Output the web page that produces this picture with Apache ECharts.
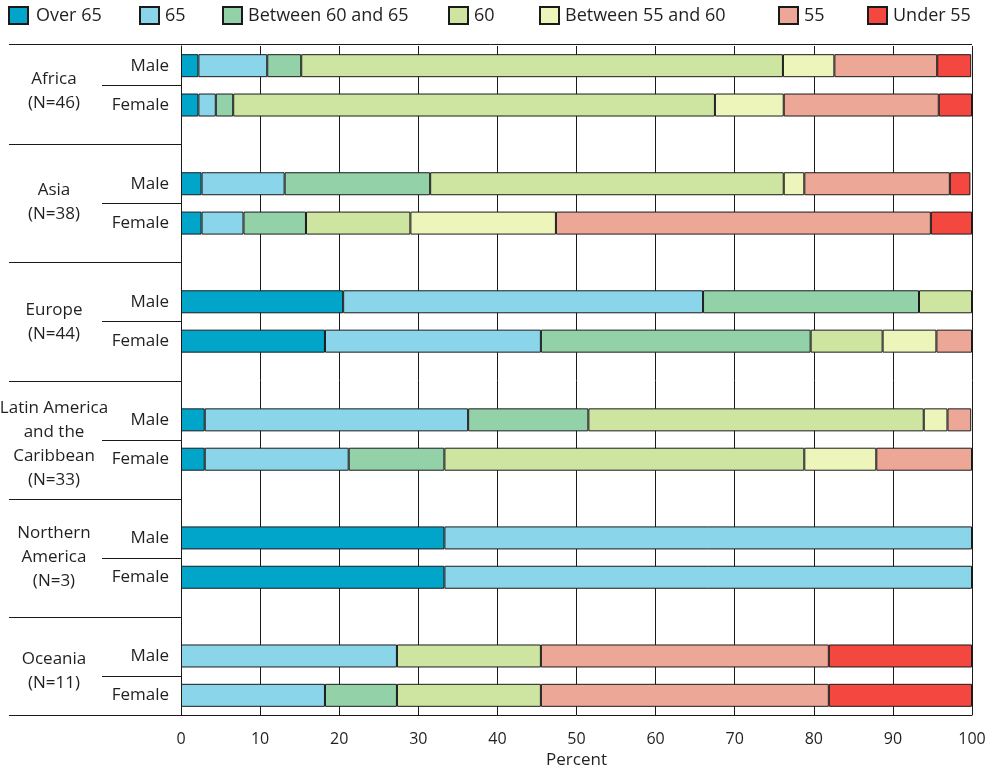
<!DOCTYPE html>
<html>
<head>
<meta charset="utf-8">
<script src="https://cdn.jsdelivr.net/npm/echarts@6/dist/echarts.min.js"></script>
<style>
html,body{margin:0;padding:0;background:#fff;}
#chart{width:999px;height:771px;}
</style>
</head>
<body>
<div id="chart"></div>
<script>
// ---- data ----
const rowLabels = ['Male', 'Female'];
const groupLabels = ['Africa\n(N=46)', 'Asia\n(N=38)', 'Europe\n(N=44)',
  'Latin America\nand the\nCaribbean\n(N=33)', 'Northern\nAmerica\n(N=3)', 'Oceania\n(N=11)'];
const bandNames = ['Over 65', '65', 'Between 60 and 65', '60', 'Between 55 and 60', '55', 'Under 55'];
// rows: Africa M, Africa F, Asia M, Asia F, Europe M, Europe F, LatAm M, LatAm F, N.Am M, N.Am F, Oceania M, Oceania F
const over65   = [2.2, 2.2, 2.6, 2.6, 20.5, 18.2, 3.0, 3.0, 33.3, 33.3, 0, 0];
const age65    = [8.7, 2.2, 10.5, 5.3, 45.5, 27.3, 33.3, 18.2, 66.7, 66.7, 27.3, 18.2];
const b60to65  = [4.3, 2.2, 18.4, 7.9, 27.3, 34.1, 15.2, 12.1, 0, 0, 0, 9.1];
const age60    = [60.9, 60.9, 44.7, 13.2, 6.7, 9.1, 42.4, 45.5, 0, 0, 18.2, 18.2];
const b55to60  = [6.5, 8.7, 2.6, 18.4, 0, 6.8, 3.0, 9.1, 0, 0, 0, 0];
const age55    = [13.0, 19.6, 18.4, 47.4, 0, 4.5, 3.0, 12.1, 0, 0, 36.4, 36.4];
const under55  = [4.3, 4.2, 2.6, 5.2, 0, 0, 0, 0, 0, 0, 18.1, 18.1];
const xTicks = [0, 10, 20, 30, 40, 50, 60, 70, 80, 90, 100];

const bandValues = [over65, age65, b60to65, age60, b55to60, age55, under55];
const bandColors = ['#00a5c9', '#8bd5ea', '#93d2a9', '#cde5a0', '#eef5bb', '#eda797', '#f4473f'];

// ---- build category slots (two rows per group + a gap slot between groups) ----
const cats = [];
const slotOfRow = [];
const gapSlots = [];
for (let g = 0; g < groupLabels.length; g++) {
  for (let r = 0; r < 2; r++) {
    slotOfRow.push(cats.length);
    cats.push(rowLabels[r]);
  }
  if (g < groupLabels.length - 1) { gapSlots.push(cats.length); cats.push(''); }
}
function toSlots(arr) {
  const out = cats.map(() => '-');
  arr.forEach((v, i) => { out[slotOfRow[i]] = v > 0 ? v : '-'; });
  return out;
}

const FONT = '"Open Sans", "DejaVu Sans", sans-serif';
const TXT = '#231f20';
const LINE = '#1a1a1a';

const legendLefts = [8, 139, 222, 448, 539, 778, 867];
const legends = bandNames.map((n, i) => ({
  data: [n], left: legendLefts[i], top: 6, orient: 'horizontal',
  itemWidth: 19, itemHeight: 17, icon: 'rect', selectedMode: false,
  textStyle: { fontSize: 18, color: TXT, fontFamily: FONT, padding: [0, 0, 0, i === 0 ? 3 : 1] },
  padding: 0
}));

const chart = echarts.init(document.getElementById('chart'));
chart.setOption({
  animation: false,
  backgroundColor: '#fff',
  legend: legends,
  grid: { left: 181, right: 27, top: 46, bottom: 56, containLabel: false, outerBoundsMode: 'none' },
  xAxis: {
    type: 'value', min: xTicks[0], max: xTicks[xTicks.length - 1], interval: 10,
    axisLine: { show: true, lineStyle: { color: LINE, width: 1 } },
    axisTick: { show: false },
    splitLine: { show: true, lineStyle: { color: LINE, width: 1 } },
    axisLabel: { fontSize: 16, color: TXT, fontFamily: FONT, margin: 16 },
    name: 'Percent', nameLocation: 'middle', nameGap: 37,
    nameTextStyle: { fontSize: 17, color: TXT, fontFamily: FONT }
  },
  yAxis: {
    type: 'category', inverse: true, data: cats,
    axisLine: { show: true, lineStyle: { color: LINE, width: 1 } },
    axisTick: { show: false },
    splitLine: { show: false },
    axisLabel: { fontSize: 17, color: TXT, fontFamily: FONT, margin: 12, interval: 0 }
  },
  series: bandNames.map((n, i) => ({
    name: n, type: 'bar', stack: 'total', barWidth: 23,
    data: toSlots(bandValues[i]),
    itemStyle: { color: bandColors[i], borderColor: LINE, borderWidth: 1 },
    emphasis: { disabled: true }
  }))
});

// ---- left-hand group labels and separators, positioned through the y axis scale ----
function yOf(slot) { return chart.convertToPixel({ yAxisIndex: 0 }, slot); }
const slotH = yOf(1) - yOf(0);
const crisp = v => Math.round(v) + 0.5;
const leftX = 9, axisX = 181, rightX = 972;
const labelNudge = [6.3, -1.2, 0.8, 4.2, -0.9, -4];
const els = [];
function hline(x1, x2, y) {
  els.push({ type: 'line', shape: { x1: x1, y1: crisp(y), x2: x2, y2: crisp(y) },
    style: { stroke: LINE, lineWidth: 1 }, silent: true, z: 100 });
}
hline(leftX, rightX, yOf(0) - slotH / 2 - 2);
hline(leftX, axisX, yOf(cats.length - 1) + slotH / 2);
gapSlots.forEach(s => hline(leftX, axisX, yOf(s)));
for (let g = 0; g < groupLabels.length; g++) {
  const yM = yOf(slotOfRow[2 * g]);
  const yF = yOf(slotOfRow[2 * g + 1]);
  hline(102, axisX, (yM + yF) / 2);
  els.push({ type: 'text', silent: true, z: 100,
    style: { text: groupLabels[g], x: 54, y: (yM + yF) / 2 + labelNudge[g], align: 'center', verticalAlign: 'middle',
      font: '17px ' + FONT, fill: TXT, lineHeight: 24 } });
}
chart.setOption({ graphic: els });
</script>
</body>
</html>
